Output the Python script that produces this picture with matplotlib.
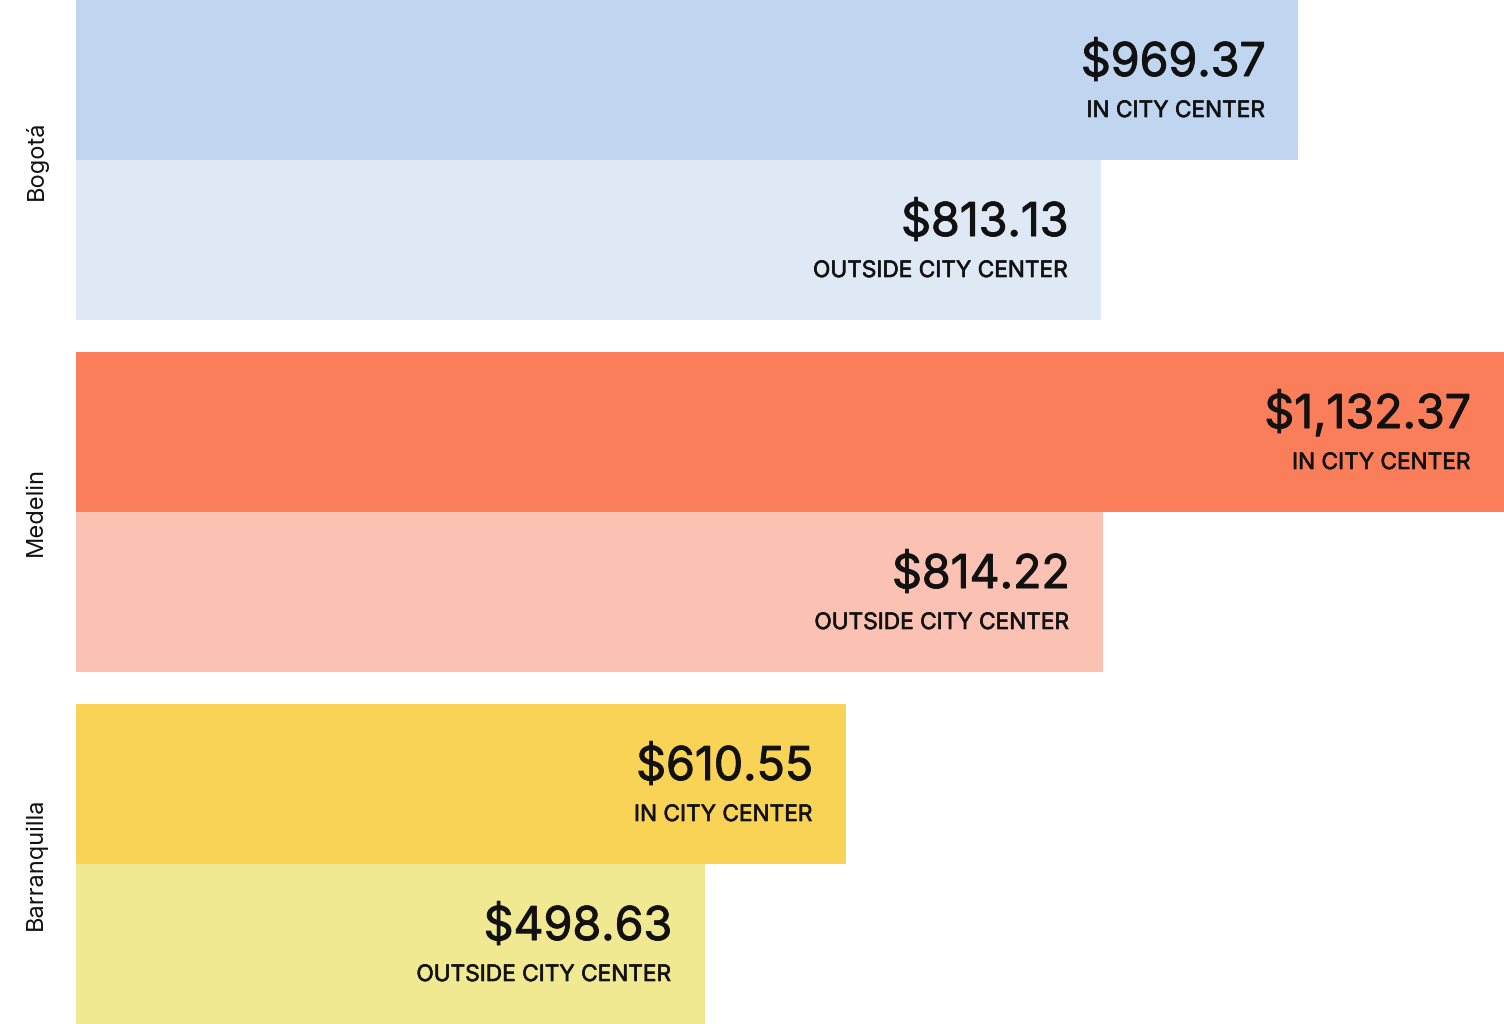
import numpy as np
import matplotlib
matplotlib.use("Agg")
import matplotlib.pyplot as plt
import matplotlib.patheffects as pe
from matplotlib import transforms

cities = ["Bogotá", "Medelin", "Barranquilla"]
in_center = [969.37, 1132.37, 610.55]
outside_center = [813.13, 814.22, 498.63]
in_colors = ["#c0d5ef", "#fb7e5a", "#f9d355"]
out_colors = ["#dfe9f6", "#fbc2b3", "#f1e992"]
sub_labels = ["IN CITY CENTER", "OUTSIDE CITY CENTER"]

plt.rcParams['font.family'] = ['Inter', 'DejaVu Sans']

fig = plt.figure(figsize=(15.04, 10.24), dpi=100)
ax = fig.add_axes([76 / 1504, 0, 1 - 76 / 1504, 1])

# slightly heavier than regular, lighter than semibold
thick = [pe.withStroke(linewidth=0.7, foreground="#111111")]

gap = 0.2
for g, city in enumerate(cities):
    base = g * (2 + gap)
    vals = [in_center[g], outside_center[g]]
    cols = [in_colors[g], out_colors[g]]
    for i in range(2):
        yc = base + i + 0.5
        ax.barh(yc, vals[i], height=1.0, color=cols[i], edgecolor="none")
        # value + caption, right aligned inside the bar end
        ax.annotate("${:,.2f}".format(vals[i]), xy=(vals[i], yc), xytext=(-33, 4),
                    textcoords="offset pixels", ha="right", va="baseline",
                    fontsize=33.5, color="#111111", path_effects=thick)
        ax.annotate(sub_labels[i], xy=(vals[i], yc), xytext=(-33, -37),
                    textcoords="offset pixels", ha="right", va="baseline",
                    fontsize=16.3, color="#111111",
                    path_effects=[pe.withStroke(linewidth=0.45, foreground="#111111")])
    trans = transforms.blended_transform_factory(fig.transFigure, ax.transData)
    ax.text(36 / 1504, base + 1, city, transform=trans, rotation=90,
            ha="center", va="center", fontsize=17, color="#111111")

ax.set_xlim(0, max(in_center))
ax.set_ylim(3 * 2 + 2 * gap, 0)
ax.axis("off")

fig.savefig("out.png", dpi=100)
